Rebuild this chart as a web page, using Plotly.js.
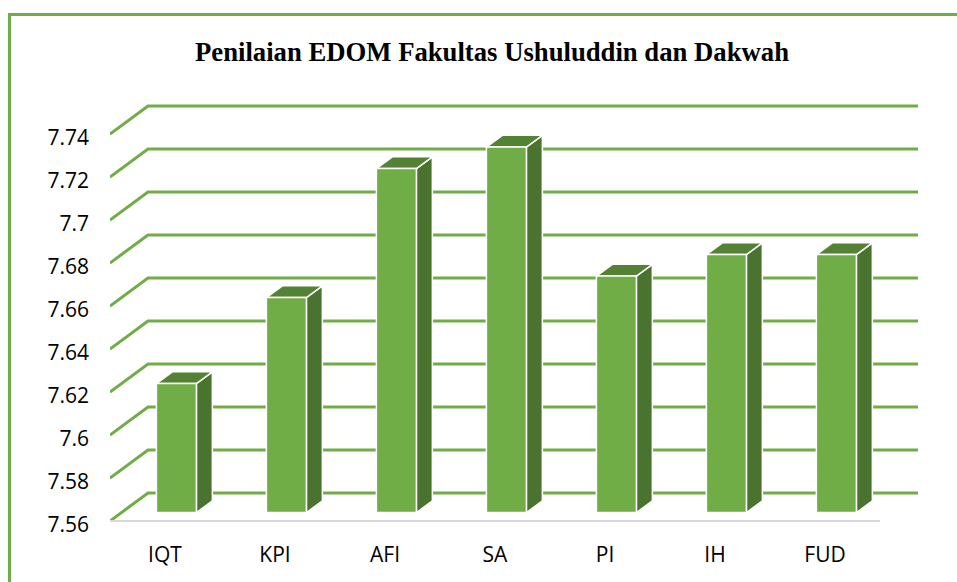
<!DOCTYPE html>
<html>
<head>
<meta charset="utf-8">
<script src="https://cdn.plot.ly/plotly-3.0.1.min.js"></script>
<style>
  html, body { margin: 0; padding: 0; background: #ffffff; }
  #wrap { position: relative; width: 957px; height: 582px; overflow: hidden; }
  #chart { position: absolute; left: 0; top: 0; width: 957px; height: 582px; }
  #frame { position: absolute; left: 8px; top: 13px; width: 1000px; height: 600px;
           border-left: 3px solid #70AD47; border-top: 3px solid #70AD47; pointer-events: none; }
</style>
</head>
<body>
<div id="wrap">
  <div id="chart"></div>
  <div id="frame"></div>
</div>
<script>
// ---- data ----
const categories = ['IQT', 'KPI', 'AFI', 'SA', 'PI', 'IH', 'FUD'];
const values = [7.62, 7.66, 7.72, 7.73, 7.67, 7.68, 7.68];
const yTickVals = [7.56, 7.58, 7.60, 7.62, 7.64, 7.66, 7.68, 7.70, 7.72, 7.74];
const yTickLabels = ['7.56', '7.58', '7.6', '7.62', '7.64', '7.66', '7.68', '7.7', '7.72', '7.74'];
const chartTitle = 'Penilaian EDOM Fakultas Ushuluddin dan Dakwah';

// ---- geometry (pixel scale helpers for the pseudo-3D look) ----
const W = 957, H = 582;
const PX_PER_CAT = 110;      // pixels per category
const PX_PER_UNIT = 2150;    // pixels per value unit
const LEFT = 110, RIGHT = 930, TOP = 90, BOTTOM = 524;
const BASE = yTickVals[0];
const FRONT_Y_PIX = 521;     // pixel of BASE on front plane
const DX = 38 / PX_PER_CAT;  // full depth offset (x units)
const DY = 28 / PX_PER_UNIT; // full depth offset (y units)
const FRONT = 0.3, BACK = 0.72;
const HALFW = 20 / PX_PER_CAT;

const xRange = [-0.5, -0.5 + (RIGHT - LEFT) / PX_PER_CAT];
const yRange = [BASE - (BOTTOM - FRONT_Y_PIX) / PX_PER_UNIT, BASE + (FRONT_Y_PIX - TOP) / PX_PER_UNIT];
const n = categories.length;
const xIdx = categories.map((c, i) => i);

const GREEN = '#70AD47', SIDE = '#4B7330', TOPC = '#548235';

// gridlines (perspective: diagonal wall + back horizontal)
const gx = [], gy = [];
yTickVals.forEach(v => {
  gx.push(-0.5, -0.5 + DX, n - 0.5 + DX, null);
  gy.push(v, v + DY, v + DY, null);
});
const traces = [];
traces.push({ type: 'scatter', mode: 'lines', x: gx, y: gy, hoverinfo: 'skip',
  line: { color: GREEN, width: 3 }, connectgaps: false });
// floor front edge
traces.push({ type: 'scatter', mode: 'lines', x: [-0.5, n - 0.5], y: [BASE, BASE], hoverinfo: 'skip',
  line: { color: '#D9D9D9', width: 2 } });

// bars
const sx = [], sy = [], tx = [], ty = [], fx = [], fy = [];
const ddx = (BACK - FRONT) * DX, ddy = (BACK - FRONT) * DY;
values.forEach((v, i) => {
  const xc = xIdx[i] + FRONT * DX;
  const xl = xc - HALFW, xr = xc + HALFW;
  const yb = BASE + FRONT * DY, yt = v + FRONT * DY;
  sx.push(xr, xr + ddx, xr + ddx, xr, xr, null);
  sy.push(yb, yb + ddy, yt + ddy, yt, yb, null);
  tx.push(xl, xr, xr + ddx, xl + ddx, xl, null);
  ty.push(yt, yt, yt + ddy, yt + ddy, yt, null);
  fx.push(xl, xr, xr, xl, xl, null);
  fy.push(yb, yb, yt, yt, yb, null);
});
traces.push({ type: 'scatter', mode: 'lines', x: sx, y: sy, fill: 'toself', fillcolor: SIDE,
  line: { color: '#ffffff', width: 1.5 }, hoverinfo: 'skip' });
traces.push({ type: 'scatter', mode: 'lines', x: tx, y: ty, fill: 'toself', fillcolor: TOPC,
  line: { color: '#ffffff', width: 1.5 }, hoverinfo: 'skip' });
traces.push({ type: 'scatter', mode: 'lines', x: fx, y: fy, fill: 'toself', fillcolor: GREEN,
  line: { color: '#ffffff', width: 1.5 }, hoverinfo: 'skip' });

const layout = {
  width: W, height: H,
  margin: { l: LEFT, r: W - RIGHT, t: TOP, b: H - BOTTOM, pad: 0 },
  paper_bgcolor: '#ffffff', plot_bgcolor: '#ffffff',
  showlegend: false, hovermode: false,
  title: { text: '<b>' + chartTitle + '</b>', xref: 'container', yref: 'container',
    x: 492 / W, xanchor: 'center', y: 1 - 52 / H, yanchor: 'middle',
    font: { family: 'Liberation Serif, Times New Roman, serif', size: 26.7, color: '#000000' } },
  xaxis: { range: xRange, tickmode: 'array', tickvals: xIdx, ticktext: categories,
    showgrid: false, zeroline: false, showline: false, ticks: '', ticklabelstandoff: 16,
    tickfont: { family: 'Open Sans, sans-serif', size: 21, color: '#000000' }, fixedrange: true },
  yaxis: { range: yRange, tickmode: 'array', tickvals: yTickVals, ticktext: yTickLabels,
    showgrid: false, zeroline: false, showline: false, ticks: '', ticklabelstandoff: 20,
    ticklabelshift: 4,
    tickfont: { family: 'Open Sans, sans-serif', size: 21, color: '#000000' }, fixedrange: true }
};
Plotly.newPlot('chart', traces, layout, { displayModeBar: false, staticPlot: true });
</script>
</body>
</html>
